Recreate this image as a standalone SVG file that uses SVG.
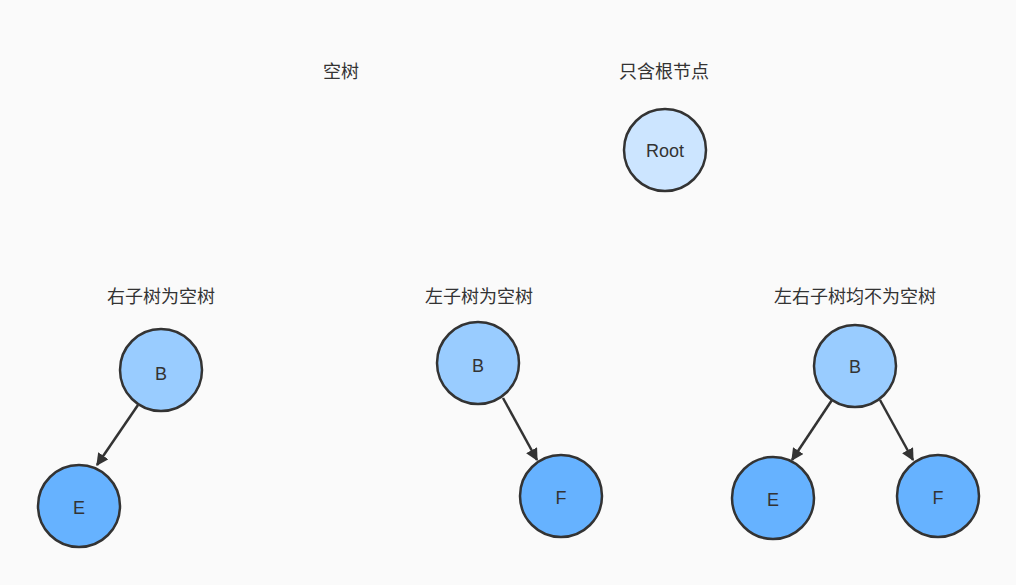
<svg xmlns="http://www.w3.org/2000/svg" width="1016" height="585" viewBox="0 0 1016 585">
<style>
text{font-family:"Liberation Sans","Noto Sans CJK SC",sans-serif;fill:#333;text-anchor:middle;dominant-baseline:central}
.t{font-size:18px}.n{font-size:18px}
circle{stroke:#333;stroke-width:2.5}
.r{fill:#cce5ff}.b{fill:#99ccff}.c{fill:#66b2ff}
line{stroke:#333;stroke-width:2.5}
</style>
<defs><marker id="a" viewBox="0 0 10 10" refX="9" refY="5" markerWidth="5" markerHeight="5" orient="auto"><path d="M0,0L10,5L0,10z" fill="#333"/></marker></defs>
<rect width="1016" height="585" fill="#fafafa"/>
<text class="t" x="341" y="72">空树</text>
<text class="t" x="664" y="72">只含根节点</text>
<text class="t" x="161" y="297">右子树为空树</text>
<text class="t" x="479" y="297">左子树为空树</text>
<text class="t" x="855" y="297">左右子树均不为空树</text>
<g id="connectors">
<line x1="138" y1="405" x2="97" y2="465" marker-end="url(#a)"/>
<line x1="503" y1="398" x2="537" y2="460" marker-end="url(#a)"/>
<line x1="832" y1="400" x2="792" y2="460" marker-end="url(#a)"/>
<line x1="880" y1="400" x2="913" y2="460" marker-end="url(#a)"/>
</g>
<g id="root"><circle class="r" cx="665" cy="150" r="41"/><text class="n" x="665" y="151">Root</text></g>
<g id="b1"><circle class="b" cx="161" cy="370" r="41"/><text class="n" x="161" y="374">B</text></g>
<g id="e1"><circle class="c" cx="79" cy="506" r="41"/><text class="n" x="79" y="508">E</text></g>
<g id="b2"><circle class="b" cx="478" cy="363" r="41"/><text class="n" x="478" y="366">B</text></g>
<g id="f2"><circle class="c" cx="561" cy="496" r="41"/><text class="n" x="561" y="498">F</text></g>
<g id="b3"><circle class="b" cx="855" cy="366" r="41"/><text class="n" x="855" y="367">B</text></g>
<g id="e3"><circle class="c" cx="773" cy="498" r="41"/><text class="n" x="773" y="500">E</text></g>
<g id="f3"><circle class="c" cx="938" cy="496" r="41"/><text class="n" x="938" y="498">F</text></g>
</svg>
